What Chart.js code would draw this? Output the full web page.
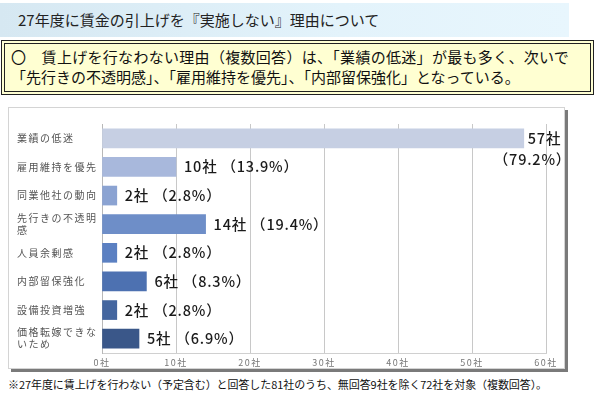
<!DOCTYPE html>
<html>
<head>
<meta charset="utf-8">
<script src="https://cdn.jsdelivr.net/npm/chart.js@4/dist/chart.umd.min.js"></script>
<style>
  body{margin:0;width:595px;height:398px;background:#fff;position:relative;overflow:hidden;
       font-family:"Noto Sans CJK JP","Noto Sans",sans-serif;color:#111;}
  #title{position:absolute;left:0;top:3px;width:569px;height:34px;
       background:linear-gradient(to right,#d6e8f2,#e3f3fb 60%,#e8f6fd);}
  #title span{position:absolute;left:18px;top:6px;font-size:15px;color:#222;white-space:nowrap;}
  #box{position:absolute;left:1px;top:40px;width:579px;height:47px;background:#ffffd2;
       border:4px double #222;padding:0 0 0 6px;font-size:15px;line-height:20px;white-space:nowrap;color:#111;}
  #box div{position:relative;top:3px;}
  #box div:first-child{letter-spacing:0.3px;}
  #frame{position:absolute;left:8px;top:107px;width:555px;height:260px;background:#fff;
       border:1px solid #d4d4d4;box-shadow:3px 3px 0 #7a7a7a;}
  #wrap{position:absolute;left:0;top:0;width:554px;height:259px;}
  #note{position:absolute;left:8px;top:376px;font-size:11px;letter-spacing:-0.08px;color:#111;white-space:nowrap;}
</style>
</head>
<body>
<div id="title"><span>27年度に賃金の引上げを『実施しない』理由について</span></div>
<div id="box">
  <div>〇　賃上げを行なわない理由（複数回答）は、「業績の低迷」が最も多く、次いで</div>
  <div>「先行きの不透明感」、「雇用維持を優先」、「内部留保強化」となっている。</div>
</div>
<div id="frame"><div id="wrap"><canvas id="c"></canvas></div></div>
<div id="note">※27年度に賃上げを行わない（予定含む）と回答した81社のうち、無回答9社を除く72社を対象（複数回答）。</div>
<script>
const categories = ['業績の低迷','雇用維持を優先','同業他社の動向',['先行きの不透明','感'],
                    '人員余剰感','内部留保強化','設備投資増強',['価格転嫁できな','いため']];
const counts = [57,10,2,14,2,6,2,5];
const percents = ['79.2','13.9','2.8','19.4','2.8','8.3','2.8','6.9'];
const barColors = ['#c6cfe3','#a8b8dc','#8ba3d2','#6e8ec8','#5b80c2','#4d71b1','#44669f','#3a5789'];
const unit = '社';

// widen the axis text a little, like the original
const axisSpacing = {
    id:'axisSpacing',
    beforeDraw(chart){ chart.ctx.letterSpacing = '1.5px'; },
    beforeDatasetsDraw(chart){ chart.ctx.letterSpacing = '0px'; }
};

const valueLabels = {
    id:'valueLabels',
    afterDatasetsDraw(chart){
        const ctx = chart.ctx;
        const meta = chart.getDatasetMeta(0);
        ctx.save();
        ctx.font = '500 14.5px "Noto Sans CJK JP", sans-serif';
        ctx.letterSpacing = '0.8px';
        ctx.fillStyle = '#1a1a1a';
        ctx.textBaseline = 'middle';
        ctx.textAlign = 'left';
        meta.data.forEach((bar,i)=>{
            const cnt = counts[i] + unit;
            const pct = '（' + percents[i] + '%）';
            if(i === 0){
                ctx.fillText(cnt, bar.x + 4, bar.y);
                ctx.fillText(pct, bar.x - 30, bar.y + 21);
            } else {
                ctx.fillText(cnt + ' ' + pct, bar.x + 8, bar.y);
            }
        });
        ctx.restore();
    }
};

new Chart(document.getElementById('c'), {
    type:'bar',
    data:{
        labels:categories,
        datasets:[{
            data:counts,
            backgroundColor:barColors,
            borderWidth:0,
            barThickness:19
        }]
    },
    options:{
        indexAxis:'y',
        responsive:true,
        maintainAspectRatio:false,
        animation:false,
        layout:{padding:{left:8,right:17,top:1,bottom:0}},
        plugins:{legend:{display:false},tooltip:{enabled:false}},
        scales:{
            x:{
                min:0,max:60,
                ticks:{stepSize:10,padding:4,color:'#777',
                       font:{size:9,family:'"Noto Sans CJK JP", sans-serif'},
                       callback:v=>v+unit},
                grid:{color:'#c8c8c8',drawTicks:false},
                border:{color:'#d0d0d0'},
                afterFit(s){ s.height = 14; }
            },
            y:{
                ticks:{crossAlign:'far',color:'#555',padding:4,
                       font:{size:10,family:'"Noto Sans CJK JP", sans-serif',lineHeight:1.2}},
                grid:{display:false},
                border:{color:'#b8b8b8'},
                afterFit(s){ s.width = 85; }
            }
        }
    },
    plugins:[axisSpacing, valueLabels]
});
</script>
</body>
</html>
